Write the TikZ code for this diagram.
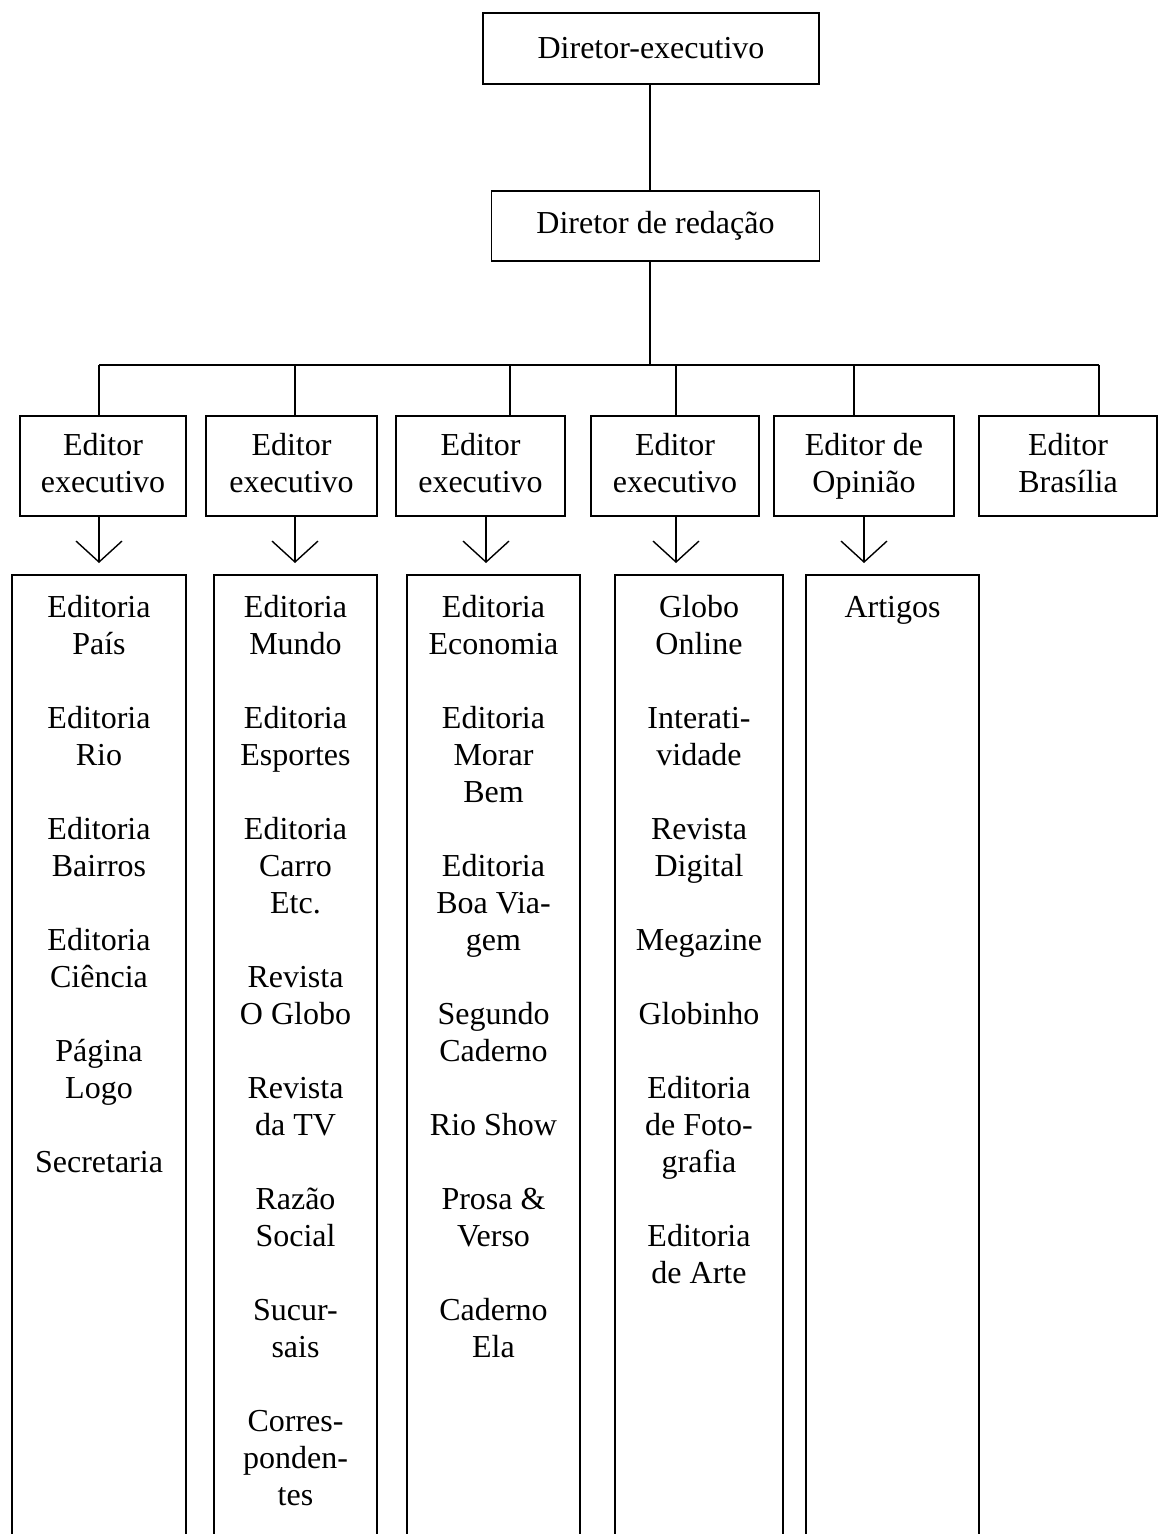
\documentclass[tikz,border=0pt]{standalone}
\usepackage{fontspec}
\setmainfont{Liberation Serif}
\usetikzlibrary{arrows.meta}

\tikzset{
  box/.style={draw, line width=0.7pt, align=center, minimum height=50pt, inner sep=2pt},
  link/.style={line width=0.7pt},
  down/.style={line width=0.7pt, -{Straight Barb[length=10.5pt,width=23pt,line width=0.7pt]}},
  list/.style={anchor=north, align=center, inner sep=0pt}
}
\newcommand{\topline}{\rule{0pt}{12pt}}

\begin{document}
\begin{tikzpicture}[x=0.5pt, y=-0.5pt, font=\fontsize{16}{18.5}\selectfont]
\useasboundingbox (0,0) rectangle (1158,1534);
% direction
\node[box, minimum width=168pt, minimum height=35.5pt] (dex) at (651,48.5) {Diretor-executivo};
\node[box, minimum width=164pt, minimum height=35pt] (dre) at (655.5,226) {Diretor de redação};
\coordinate (v) at (650,365);
\draw[link] (v |- dex.south) -- (v |- dre.north);
\draw[link] (v |- dre.south) -- (v);
% editors
\node[box, minimum width=83pt] (ed1) at (103,466) {Editor\\executivo\vphantom{p}};
\node[box, minimum width=85.5pt] (ed2) at (291.5,466) {Editor\\executivo\vphantom{p}};
\node[box, minimum width=84.5pt] (ed3) at (480.5,466) {Editor\\executivo\vphantom{p}};
\node[box, minimum width=84pt] (ed4) at (675,466) {Editor\\executivo\vphantom{p}};
\node[box, minimum width=90pt] (ed5) at (864,466) {Editor de\\Opinião};
\node[box, minimum width=89pt] (ed6) at (1068,466) {Editor\\Brasília\vphantom{p}};
\coordinate (b1) at (99,365);
\coordinate (b2) at (295,365);
\coordinate (b3) at (510,365);
\coordinate (b4) at (676,365);
\coordinate (b5) at (854,365);
\coordinate (b6) at (1099,365);
\draw[link] (b1) -- (b6);
\draw[link] (b1) -- (b1 |- ed1.north);
\draw[link] (b2) -- (b2 |- ed2.north);
\draw[link] (b3) -- (b3 |- ed3.north);
\draw[link] (b4) -- (b4 |- ed4.north);
\draw[link] (b5) -- (b5 |- ed5.north);
\draw[link] (b6) -- (b6 |- ed6.north);
% arrows down to the lists
\coordinate (t1) at (99,563);
\coordinate (t2) at (295,563);
\coordinate (t3) at (486,563);
\coordinate (t4) at (676,563);
\coordinate (t5) at (864,563);
\draw[down] (t1 |- ed1.south) -- (t1);
\draw[down] (t2 |- ed2.south) -- (t2);
\draw[down] (t3 |- ed3.south) -- (t3);
\draw[down] (t4 |- ed4.south) -- (t4);
\draw[down] (t5 |- ed5.south) -- (t5);
% lists, open at the bottom
\draw[link] (12,1534) |- (186,575) -- (186,1534);
\draw[link] (214,1534) |- (377,575) -- (377,1534);
\draw[link] (407,1534) |- (580,575) -- (580,1534);
\draw[link] (615,1534) |- (783,575) -- (783,1534);
\draw[link] (806,1534) |- (979,575) -- (979,1534);
\node[list] (col1) at (99,593) {\topline Editoria\\País\\[18.5pt]Editoria\\Rio\\[18.5pt]Editoria\\Bairros\\[18.5pt]Editoria\\Ciência\\[18.5pt]Página\\Logo\\[18.5pt]Secretaria};
\node[list] (col2) at (295.5,593) {\topline Editoria\\Mundo\\[18.5pt]Editoria\\Esportes\\[18.5pt]Editoria\\Carro\\Etc.\\[18.5pt]Revista\\O Globo\\[18.5pt]Revista\\da TV\\[18.5pt]Razão\\Social\\[18.5pt]Sucur-\\sais\\[18.5pt]Corres-\\ponden-\\tes};
\node[list] (col3) at (493.5,593) {\topline Editoria\\Economia\\[18.5pt]Editoria\\Morar\\Bem\\[18.5pt]Editoria\\Boa Via-\\gem\\[18.5pt]Segundo\\Caderno\\[18.5pt]Rio Show\\[18.5pt]Prosa \&\\Verso\\[18.5pt]Caderno\\Ela};
\node[list] (col4) at (699,593) {\topline Globo\\Online\\[18.5pt]Interati-\\vidade\\[18.5pt]Revista\\Digital\\[18.5pt]Megazine\\[18.5pt]Globinho\\[18.5pt]Editoria\\de Foto-\\grafia\\[18.5pt]Editoria\\de Arte};
\node[list] (col5) at (892.5,593) {\topline Artigos};
\end{tikzpicture}
\end{document}
